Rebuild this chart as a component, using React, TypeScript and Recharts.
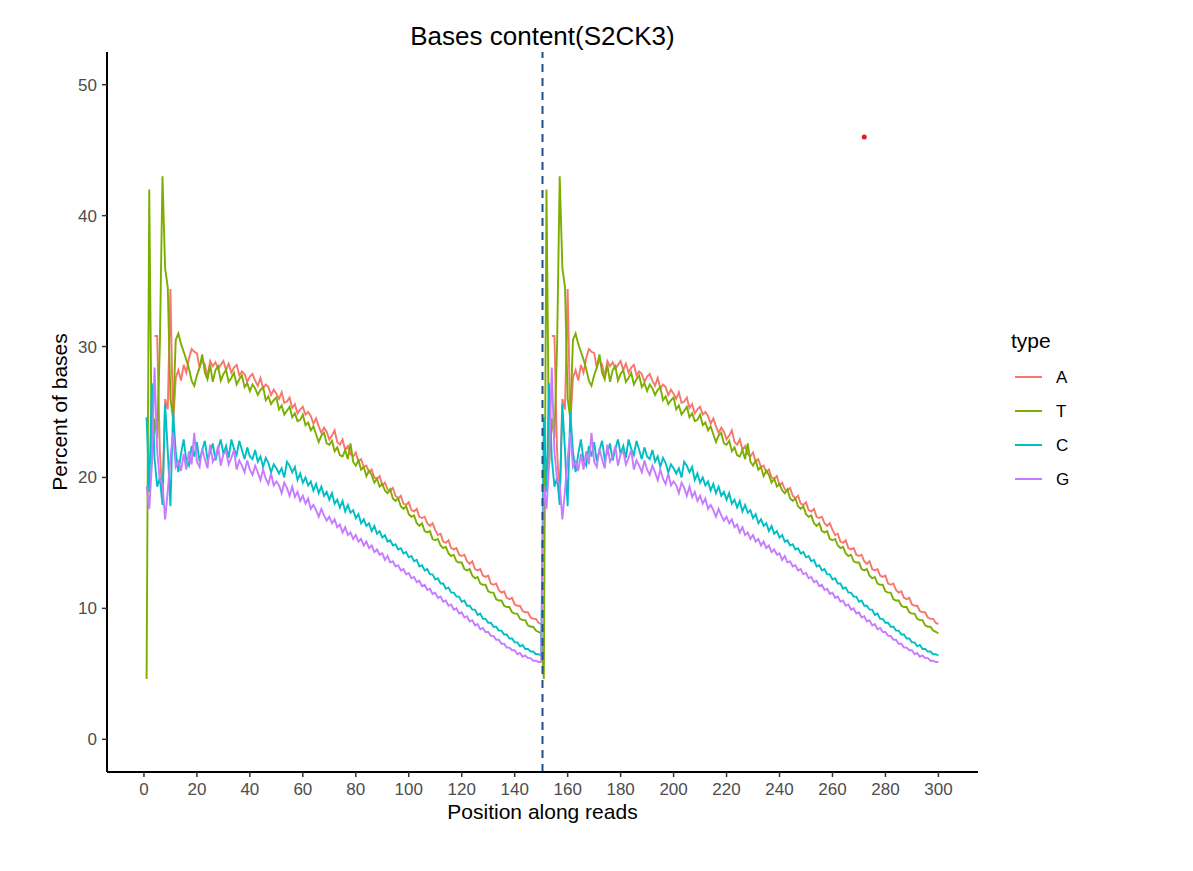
import { LineChart, Line, XAxis, YAxis, ReferenceLine, ReferenceDot } from 'recharts';

// base composition per position of one read (1..150); read 2 (151..300) repeats it
const readA = [
  null, null, null, 30.8, 30.8, 22.0, 18.5, 26.0, 25.2, 34.4,
  24.0, 27.6, 28.2, 27.4, 28.6, 28.0, 29.1, 29.8, 29.6, 29.5,
  28.4, 29.0, 28.6, 27.7, 28.9, 28.5, 28.8, 28.3, 28.6, 28.9,
  28.2, 28.7, 28.0, 28.4, 28.6, 27.8, 28.1, 27.9, 27.3, 27.7,
  27.9, 27.4, 27.0, 27.6, 26.8, 27.1, 26.9, 26.3, 26.7, 26.4,
  26.0, 26.5, 25.7, 25.8, 26.1, 25.3, 25.6, 24.9, 25.2, 25.4,
  24.8, 25.0, 24.7, 24.1, 24.5, 23.9, 23.4, 23.8, 23.5, 22.9,
  23.2, 23.6, 22.7, 22.5, 22.9, 22.1, 22.4, 21.8, 21.6, 21.9,
  21.2, 21.4, 20.8, 20.9, 20.4, 20.6, 20.0, 19.9, 20.1, 19.4,
  19.6, 19.1, 19.0, 19.2, 18.6, 18.4, 18.6, 18.0, 17.9, 18.1,
  17.5, 17.4, 17.6, 17.0, 16.9, 17.0, 16.5, 16.3, 16.5, 16.0,
  15.6, 15.7, 15.1, 15.0, 15.2, 14.6, 14.5, 14.6, 14.1, 14.0,
  14.1, 13.6, 13.4, 13.6, 13.0, 12.9, 13.0, 12.5, 12.4, 12.5,
  11.9, 11.8, 11.9, 11.4, 11.2, 11.3, 10.8, 10.7, 10.8, 10.3,
  10.2, 10.2, 9.8, 9.7, 9.7, 9.3, 9.2, 9.2, 8.9, 8.8,
];

const readT = [
  4.6, 42.0, 21.0, 24.5, 23.0, 30.0, 43.0, 36.0, 34.5, 26.0,
  24.5, 30.5, 31.0, 30.2, 29.6, 29.0, 28.3, 27.4, 27.0, 27.8,
  28.4, 29.4, 28.0, 27.5, 28.6, 27.3, 28.2, 28.5, 27.4, 27.9,
  28.2, 27.3, 27.6, 28.0, 27.1, 27.5, 27.8, 26.9, 27.2, 26.6,
  27.1, 26.8, 26.3, 26.7, 26.9, 25.9, 26.2, 25.6, 25.9, 26.1,
  25.2, 25.5, 24.8, 25.1, 25.4, 24.6, 24.9, 24.3, 24.4, 24.8,
  24.0, 24.2, 23.6, 23.9, 23.3, 22.7, 23.2, 23.4, 22.6, 22.5,
  22.8, 22.0, 22.3, 21.7, 21.6, 22.1, 21.4, 22.6, 21.2, 20.9,
  21.3, 20.6, 20.8, 20.1, 20.5, 20.2, 19.6, 19.9, 19.3, 19.5,
  19.0, 18.8, 19.1, 18.4, 18.2, 18.4, 17.8, 17.6, 17.8, 17.2,
  17.0, 17.1, 16.5, 16.3, 16.5, 15.9, 15.8, 15.9, 15.3, 15.2,
  15.3, 14.8, 14.6, 14.7, 14.2, 14.0, 14.1, 13.6, 13.5, 13.5,
  13.0, 12.9, 13.0, 12.5, 12.3, 12.4, 11.9, 11.8, 11.8, 11.3,
  11.2, 11.2, 10.7, 10.6, 10.6, 10.2, 10.1, 10.1, 9.7, 9.6,
  9.6, 9.2, 9.1, 9.1, 8.7, 8.6, 8.6, 8.3, 8.2, 8.1,
];

const readC = [
  24.6, 18.9, 27.2, 21.5, 19.3, 20.0, 17.9, 25.6, 22.0, 17.8,
  25.0, 22.0, 20.4, 21.8, 22.9, 21.3, 20.9, 22.4, 21.6, 22.7,
  21.2, 22.1, 22.8, 21.4, 21.9, 22.6, 21.3, 22.2, 22.9, 21.8,
  22.4, 21.5, 22.9, 22.2, 21.7, 22.8, 22.1, 21.4, 22.3, 21.6,
  21.4, 22.1, 21.2, 21.6, 20.8, 21.5, 21.1, 20.4, 21.0, 20.7,
  20.3, 20.7, 20.0, 21.2, 20.9, 20.4, 20.8, 19.8, 20.3, 19.6,
  20.0, 19.4, 19.7, 19.0, 19.5, 18.8, 19.3, 18.6, 18.9, 18.3,
  18.8, 18.0, 18.3, 17.7, 18.2, 17.4, 17.9, 17.3, 17.5, 16.9,
  17.2, 16.5, 16.8, 16.3, 16.5, 15.9, 16.3, 15.7, 15.9, 15.4,
  15.6, 15.1, 15.2, 14.8, 14.9, 14.5, 14.6, 14.2, 14.3, 13.9,
  14.0, 13.6, 13.7, 13.2, 13.3, 12.9, 13.0, 12.6, 12.6, 12.2,
  12.3, 11.9, 11.9, 11.5, 11.6, 11.2, 11.2, 10.9, 10.9, 10.5,
  10.6, 10.2, 10.2, 9.9, 9.9, 9.5, 9.6, 9.2, 9.2, 8.9,
  8.9, 8.6, 8.6, 8.3, 8.3, 8.0, 8.0, 7.7, 7.7, 7.4,
  7.4, 7.1, 7.2, 6.9, 6.9, 6.7, 6.7, 6.5, 6.5, 6.4,
];

const readG = [
  19.3, 17.6, 21.0, 28.4, 22.0, 19.8, 19.5, 16.8, 19.0, 21.5,
  23.4, 20.8, 21.2, 20.5, 21.8, 20.6, 22.0, 21.0, 23.4, 21.2,
  20.8, 22.2, 21.4, 20.7, 22.5, 21.2, 21.6, 22.4, 20.9, 21.8,
  22.0, 21.0, 21.5, 22.1, 20.6, 21.3, 20.9, 20.4, 21.3, 20.6,
  20.2, 20.9, 20.4, 19.8, 20.6, 19.9, 19.5, 20.3, 19.4, 19.7,
  19.4, 18.8, 19.6, 19.2, 18.6, 19.3, 18.5, 18.9, 18.2, 18.6,
  18.0, 18.4, 17.6, 17.9, 17.5, 17.0, 17.6, 17.1, 16.7, 17.0,
  16.5, 16.8, 16.2, 16.4, 15.8, 16.2, 15.6, 15.8, 15.3, 15.6,
  15.1, 15.3, 14.8, 15.1, 14.6, 14.8, 14.3, 14.5, 14.1, 14.2,
  13.7, 14.0, 13.5, 13.6, 13.2, 13.3, 12.9, 13.0, 12.6, 12.7,
  12.3, 12.4, 12.0, 12.1, 11.7, 11.8, 11.4, 11.5, 11.1, 11.2,
  10.8, 10.9, 10.5, 10.6, 10.2, 10.3, 9.9, 10.0, 9.6, 9.7,
  9.3, 9.4, 9.0, 9.1, 8.7, 8.8, 8.4, 8.5, 8.2, 8.2,
  7.9, 7.9, 7.6, 7.6, 7.3, 7.3, 7.0, 7.0, 6.8, 6.8,
  6.5, 6.6, 6.3, 6.4, 6.2, 6.2, 6.0, 6.0, 5.9, 5.9,
];

const bases = ['A', 'T', 'C', 'G'];
const baseColors = ['#F8766D', '#7CAE00', '#00BFC4', '#C77CFF'];
const readCount = 2;
const xTicks = [0, 20, 40, 60, 80, 100, 120, 140, 160, 180, 200, 220, 240, 260, 280, 300];
const yTicks = [0, 10, 20, 30, 40, 50];
const readSplit = 150.5;
const markX = 272;
const markY = 46;

const perBase = [readA, readT, readC, readG];
const readLen = readA.length;
const rows: any[] = [];
for (let r = 0; r < readCount; r++) {
  for (let i = 0; i < readLen; i++) {
    const row: any = { pos: r * readLen + i + 1 };
    bases.forEach((b, k) => { row[b] = perBase[k][i]; });
    rows.push(row);
  }
}

const font = '"Liberation Sans", Arial, Helvetica, sans-serif';

export default function App() {
  return (
    <div style={{ position: 'absolute', left: 0, top: 0, width: 1193, height: 871, background: '#fff', fontFamily: font }}>
      <div style={{ position: 'absolute', left: 0, top: 22, width: 1085, textAlign: 'center', fontSize: 26, lineHeight: '28px', color: '#000' }}>
        Bases content(S2CK3)
      </div>
      <LineChart width={1193} height={871} data={rows} margin={{ top: 52, right: 215, bottom: 39, left: 0 }} style={{ fontFamily: font }}>
        <XAxis
          dataKey="pos"
          type="number"
          domain={[-13.95, 314.95]}
          ticks={xTicks}
          allowDataOverflow
          height={60}
          tickSize={5}
          tickMargin={6}
          tick={{ fill: '#4D4D4D', fontSize: 17 }}
          tickLine={{ stroke: '#333333', strokeWidth: 1.5 }}
          axisLine={{ stroke: '#000', strokeWidth: 2 }}
          label={{ value: 'Position along reads', position: 'insideBottom', offset: 13, style: { textAnchor: 'middle', fill: '#000', fontSize: 21 } }}
        />
        <YAxis
          type="number"
          domain={[-2.5, 52.5]}
          ticks={yTicks}
          allowDataOverflow
          width={107}
          tickSize={5}
          tickMargin={5}
          tick={{ fill: '#4D4D4D', fontSize: 17 }}
          tickLine={{ stroke: '#333333', strokeWidth: 1.5 }}
          axisLine={{ stroke: '#000', strokeWidth: 2 }}
          label={{ value: 'Percent of bases', angle: -90, position: 'insideLeft', offset: 60, style: { textAnchor: 'middle', fill: '#000', fontSize: 21 } }}
        />
        {bases.map((b, k) => (
          <Line key={b} type="linear" dataKey={b} stroke={baseColors[k]} strokeWidth={1.9} dot={false} activeDot={false} isAnimationActive={false} />
        ))}
        <ReferenceLine x={readSplit} stroke="#21508C" strokeWidth={2} strokeDasharray="8 6" />
        <ReferenceDot x={markX} y={markY} r={2.5} fill="#E41A1C" stroke="none" />
      </LineChart>
      <svg style={{ position: 'absolute', left: 1000, top: 320 }} width={120} height={180}>
        <text x={11} y={28} fontSize={21} fill="#000" fontFamily={font}>type</text>
        {bases.map((b, k) => (
          <g key={b}>
            <line x1={15} x2={42} y1={57 + k * 34} y2={57 + k * 34} stroke={baseColors[k]} strokeWidth={2} />
            <text x={56} y={57 + k * 34} dy="0.36em" fontSize={17} fill="#000" fontFamily={font}>{b}</text>
          </g>
        ))}
      </svg>
    </div>
  );
}
